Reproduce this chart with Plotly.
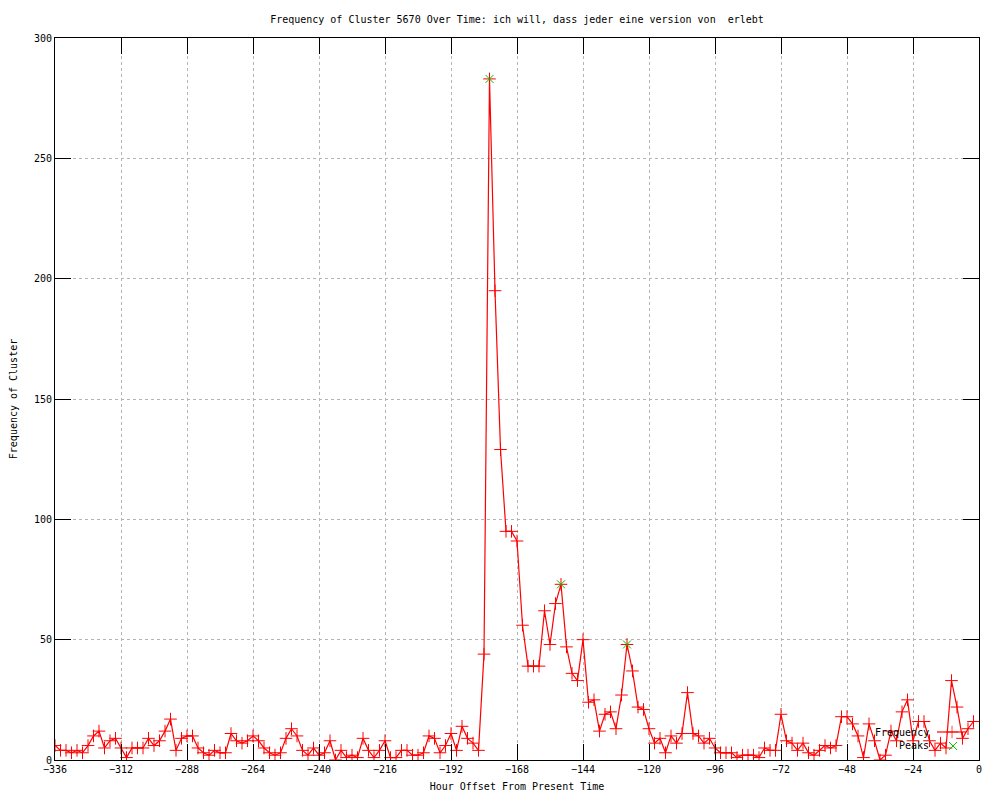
import plotly.graph_objects as go

# hour offsets, one sample every 2 hours from -336 to -2
hours = list(range(-336, 0, 2))

frequency = [
    6, 4, 4, 3, 4, 3, 6, 10, 12, 5, 8, 9, 5, 1, 5, 5, 5, 9, 6, 8,
    12, 17, 4, 9, 10, 10, 5, 3, 2, 4, 3, 3, 11, 8, 7, 8, 10, 8, 5, 3,
    2, 3, 9, 13, 10, 4, 2, 5, 2, 3, 8, 0, 4, 1, 2, 1, 9, 4, 1, 4,
    8, 1, 1, 4, 4, 2, 2, 3, 10, 9, 3, 6, 11, 4, 14, 9, 7, 4, 44, 283,
    195, 129, 95, 95, 91, 56, 39, 39, 39, 62, 48, 65, 73, 47, 36, 33, 50, 24, 25, 12,
    19, 20, 13, 27, 48, 37, 22, 21, 13, 7, 9, 3, 10, 7, 11, 28, 11, 10, 7, 9,
    5, 3, 3, 3, 1, 2, 2, 2, 1, 5, 4, 4, 19, 8, 7, 4, 7, 3, 2, 4,
    6, 5, 6, 18, 18, 15, 10, 1, 15, 8, 0, 2, 12, 8, 20, 25, 8, 16, 16, 8,
    4, 7, 5, 33, 22, 9, 13, 16,
]

peak_hours = [-178, -152, -128]
peak_values = [283, 73, 48]

x_ticks = list(range(-336, 1, 24))
y_ticks = list(range(0, 301, 50))

FONT = "DejaVu Sans Mono"
RED = "#ff0000"
GREEN = "#00c000"

plus = dict(symbol="cross-thin-open", size=9, color=RED, line=dict(color=RED, width=1))
cross = dict(symbol="x-thin-open", size=8, color=GREEN, line=dict(color=GREEN, width=1))

fig = go.Figure()

fig.add_trace(go.Scatter(
    x=hours, y=frequency, mode="lines+markers", name="Frequency",
    line=dict(color=RED, width=1.2), marker=plus, showlegend=False,
))
fig.add_trace(go.Scatter(
    x=peak_hours, y=peak_values, mode="markers", name="Peaks",
    marker=cross, showlegend=False,
))

# gnuplot style key: text on the left, sample on the right
fig.add_trace(go.Scatter(
    x=[0.9545, 0.9708, 0.986], y=[0.0388, 0.0388, 0.0388], mode="lines+markers",
    line=dict(color=RED, width=1.2), marker=dict(plus, size=[0, 9, 0]),
    xaxis="x2", yaxis="y2", showlegend=False, hoverinfo="skip",
))
fig.add_trace(go.Scatter(
    x=[0.9719], y=[0.0194], mode="markers", xaxis="x2", yaxis="y2",
    marker=cross, showlegend=False, hoverinfo="skip",
))

axis_common = dict(
    showline=True, linecolor="black", linewidth=1, mirror="ticks",
    ticks="inside", ticklen=16, tickcolor="black", tickwidth=1,
    showgrid=True, gridcolor="#b4b4b4", griddash="dot", gridwidth=1,
    zeroline=False, automargin=False,
    tickfont=dict(family=FONT, size=10, color="black"),
)

# the page body adds 8px around the figure, so the figure is a bit smaller
fig.update_layout(
    width=992, height=792,
    paper_bgcolor="white", plot_bgcolor="white",
    margin=dict(l=47, r=21, t=30, b=40),
    font=dict(family=FONT, size=10, color="black"),
    title=dict(
        text="Frequency of Cluster 5670 Over Time: ich will, dass jeder eine version von  erlebt",
        x=0.5131, xanchor="center", y=0.9861, yanchor="middle",
        font=dict(family=FONT, size=10, color="black"),
    ),
    xaxis=dict(
        range=[-336, 0], tickvals=x_ticks,
        title=dict(text="Hour Offset From Present Time", standoff=8,
                   font=dict(family=FONT, size=10)),
        **axis_common,
    ),
    yaxis=dict(
        range=[0, 300], tickvals=y_ticks,
        title=dict(text="Frequency of Cluster", standoff=22,
                   font=dict(family=FONT, size=10)),
        **axis_common,
    ),
    xaxis2=dict(range=[0, 1], overlaying="x", visible=False, fixedrange=True),
    yaxis2=dict(range=[0, 1], overlaying="y", visible=False, fixedrange=True),
    annotations=[
        dict(text="Frequency", x=0.948, y=0.0374, xref="paper", yref="paper",
             xanchor="right", yanchor="middle", showarrow=False,
             font=dict(family=FONT, size=10, color="black")),
        dict(text="Peaks", x=0.948, y=0.0194, xref="paper", yref="paper",
             xanchor="right", yanchor="middle", showarrow=False,
             font=dict(family=FONT, size=10, color="black")),
    ],
)

fig.write_html("out.html")
